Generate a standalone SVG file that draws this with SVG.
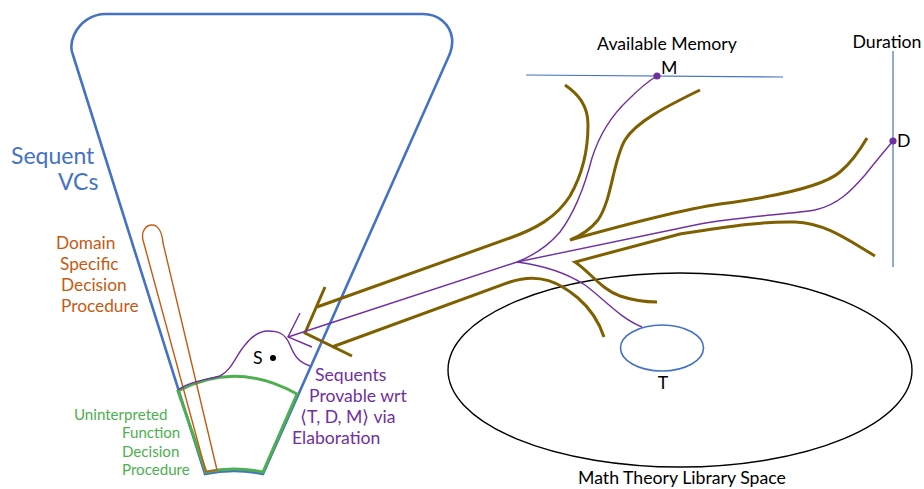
<svg xmlns="http://www.w3.org/2000/svg" width="924" height="489" viewBox="0 0 924 489">
<style>
text{font-family:Lato,"Open Sans","Liberation Sans",sans-serif}
.blue{fill:none;stroke:#4472C4}
.brown{fill:none;stroke:#7F6000;stroke-width:3;stroke-linejoin:miter;stroke-linecap:butt}
.purple{fill:none;stroke:#7030A0;stroke-width:1.4}
.green{fill:none;stroke:#4DAF50;stroke-width:3}
.orange{fill:none;stroke:#C55A11;stroke-width:1.4}
.tb{fill:#4472C4;font-size:23px}
.to{fill:#C55A11;font-size:17.3px}
.tg{fill:#4DAF50;font-size:15.1px}
.tp{fill:#7030A0;font-size:17.6px}
.tk{fill:#000;font-size:17.7px}
</style>
<rect width="924" height="489" fill="#fff"/>
<g id="funnel">
<path class="blue" stroke-width="2.6" d="M73 55 C70 48 71 42 74 35 C80 22 92 14 106 14 L423 14 C438 14 450 24 452 38 C453 47 451 52 448 58 L263 474 Q234 468 205 474 Z"/>
<text class="tb" x="11" y="164">Sequent</text>
<text class="tb" x="58" y="190">VCs</text>
</g>
<g id="uf-procedure">
<path class="green" d="M178 391 Q236 360 297 394 L263 472 Q234 466 206 472 Z"/>
<text class="tg" x="74" y="420">Uninterpreted</text>
<text class="tg" x="122" y="438">Function</text>
<text class="tg" x="122" y="457">Decision</text>
<text class="tg" x="122" y="475">Procedure</text>
</g>
<g id="ds-procedure">
<path class="orange" d="M206 472 L143 240 C141 231 146 225 152 225 C158 225 162 232 163 243 L217 470 Z"/>
<text class="to" x="56" y="249">Domain</text>
<text class="to" x="60" y="270">Specific</text>
<text class="to" x="61" y="291">Decision</text>
<text class="to" x="61" y="312">Procedure</text>
</g>
<g id="sequents">
<path class="purple" d="M178 390 C188 382 205 380 220 376 C232 370 236 355 245 345 C252 336 260 331 268 331 C278 331 285 333 290 345 C294 355 298 362 310 366"/>
<circle cx="273" cy="358" r="3" fill="#000"/>
<text class="tk" x="253" y="364" font-size="16.5">S</text>
<text class="tp" x="315" y="381">Sequents</text>
<text class="tp" x="309" y="402">Provable wrt</text>
<text class="tp" x="300" y="423">⟨T, D, M⟩ via</text>
<text class="tp" x="292" y="444">Elaboration</text>
</g>
<g id="library">
<ellipse cx="680" cy="370" rx="232" ry="97" fill="none" stroke="#000" stroke-width="1.4"/>
<text class="tk" x="682" y="484" text-anchor="middle">Math Theory Library Space</text>
</g>
<g id="theory-T">
<ellipse cx="662" cy="348" rx="41.5" ry="23" class="blue" stroke-width="1.6"/>
<text class="tk" x="663" y="389" font-size="16.5" text-anchor="middle">T</text>
</g>
<g id="memory-axis">
<line x1="526" y1="75" x2="783" y2="77" class="blue" stroke-width="1.2"/>
<text class="tk" x="667" y="50" text-anchor="middle">Available Memory</text>
<circle cx="657" cy="76" r="3.6" fill="#7030A0"/>
<text class="tk" x="661" y="74">M</text>
</g>
<g id="duration-axis">
<line x1="893" y1="51" x2="893" y2="267" class="blue" stroke-width="1.2"/>
<text class="tk" x="887" y="48" text-anchor="middle">Duration</text>
<circle cx="893" cy="141" r="3.6" fill="#7030A0"/>
<text class="tk" x="897" y="147">D</text>
</g>
<g id="connectors">
<path class="brown" d="M325 287 L305 333 L352 356"/>
<path class="brown" d="M317 307 L510 238 C535 229 556 218 570 196 C582 175 588 150 588 125 C588 105 578 94 565 85"/>
<path class="brown" d="M332 347 L510 282 C540 272 560 283 578 298 C592 310 600 325 604 337"/>
<path class="brown" d="M700 90 C665 107 636 122 625 140 C613 160 612 200 598 220 C590 230 580 236 570 240 C620 226 680 210 720 204 C780 196 825 185 840 172 C852 162 860 150 867 138"/>
<path class="brown" d="M875 256 C848 240 825 223 795 222 C760 221 720 228 680 234 L575 262 C590 272 602 290 620 296 C635 301 648 302 657 302"/>
<path class="purple" d="M300 313 L288 337 L312 347"/>
<path class="purple" d="M288 337 L517 262 C535 255 548 246 560 232 C575 212 585 185 592 158 C600 133 612 115 628 100 C640 88 650 80 657 76"/>
<path class="purple" d="M517 262 L700 224 C740 217 790 214 815 210 C838 205 852 190 865 175 C877 160 887 148 893 141"/>
<path class="purple" d="M517 262 C540 265 565 272 585 285 C605 300 620 318 642 327"/>
</g>
</svg>
